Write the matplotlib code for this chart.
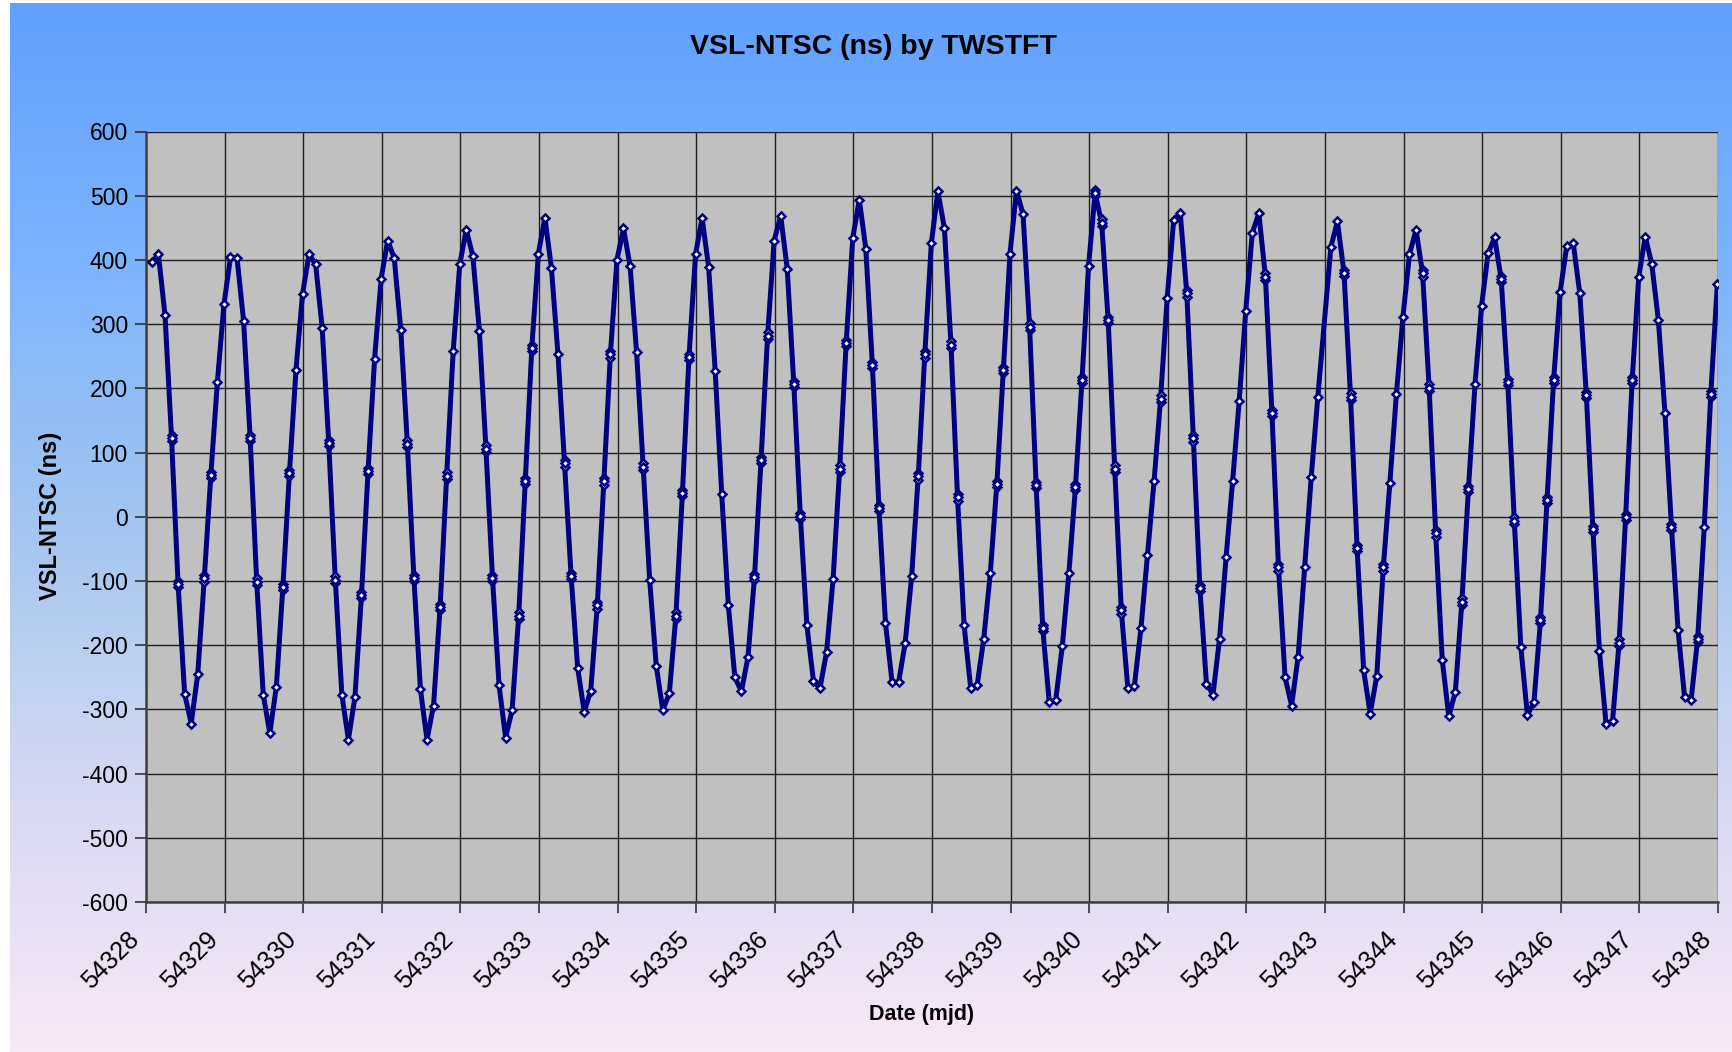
import numpy as np
from matplotlib import pyplot as plt
from matplotlib.colors import LinearSegmentedColormap
from matplotlib.transforms import ScaledTranslation

# VSL-NTSC time difference by TWSTFT, one session every 2 hours (12 per day)
mjd_days = list(range(54328, 54348))
slot_step = 1.0 / 12
slot_offset = 0.075

# values (ns) read per day, None = missing session
ns_by_day = [
	[396, 409, 314, 123, -105, -276, -322, -245, -96, 65, 210, 331],
	[404, 403, 305, 123, -101, -277, -337, -265, -109, 68, 229, 347],
	[409, 393, 294, 115, -98, -277, -347, -281, -122, 71, 246, 371],
	[430, 403, 291, 114, -95, -269, -347, -294, -141, 64, 258, 393],
	[447, 406, 289, 106, -95, -262, -344, -301, -154, 56, 263, 409],
	[466, 387, 253, 83, -92, -235, -304, -271, -138, 55, 253, 400],
	[449, 391, 256, 78, -99, -232, -301, -275, -154, 37, 249, 409],
	[465, 389, 227, 35, -137, -250, -272, -219, -94, 88, 282, 430],
	[469, 386, 207, 1, -169, -256, -267, -211, -97, 75, 271, 434],
	[494, 417, 236, 14, -166, -257, -258, -197, -92, 63, 253, 426],
	[507, 449, 268, 30, -169, -266, -262, -190, -88, 51, 229, 409],
	[508, 471, 296, 49, -173, -289, -285, -201, -88, 46, 213, 391],
	[504, 458, 306, 75, -146, -267, -263, -174, -59, 55, 184, 340],
	[462, 473, 348, 122, -111, -260, -277, -190, -63, 56, 180, 321],
	[442, 473, 374, 162, -79, -250, -294, -218, -78, 62, 186, None],
	[420, 460, 380, 187, -49, -239, -307, -248, -79, 52, 191, 311],
	[409, 447, 379, 201, -26, -223, -311, -273, -132, 43, 206, 328],
	[410, 435, 370, 210, -6, -203, -309, -289, -161, 26, 213, 350],
	[421, 426, 348, 190, -19, -209, -322, -318, -196, 0, 213, 374],
	[436, 393, 306, 162, -16, -176, -281, -285, -190, -16, 191, 363],
]

# sessions where several repeated measurements sit on top of each other
stacked = [
	[3, 4, 8, 9], [3, 4, 8, 9], [3, 4, 8, 9], [3, 4, 8, 9],
	[3, 4, 8, 9, 10], [3, 4, 8, 9, 10], [3, 8, 9, 10], [8, 9, 10],
	[2, 3, 9, 10], [2, 3, 9, 10], [2, 3, 9, 10], [2, 3, 4, 9, 10],
	[0, 1, 2, 3, 4, 10], [2, 3, 4], [2, 3, 4], [2, 3, 4, 8],
	[2, 3, 4, 8, 9], [2, 3, 4, 8, 9, 10], [3, 4, 8, 9, 10], [4, 8, 10],
]

tick_days = list(range(54328, 54349))
tick_ns = list(range(-600, 601, 100))

x, y, xs, ys = [], [], [], []
for d, day in enumerate(mjd_days):
	for k, v in enumerate(ns_by_day[d]):
		if v is None:
			continue
		t = day + slot_offset + k * slot_step
		x.append(t)
		y.append(v)
		if k in stacked[d]:
			xs += [t, t]
			ys += [v + 5, v - 5]

navy = '#000080'
fig = plt.figure(figsize=(17.33, 10.52), dpi=100)
fig.patch.set_facecolor('white')

# gradient chart area
bg = fig.add_axes([10 / 1733, 0, 1 - 10 / 1733, 1 - 3 / 1052], zorder=-10)
cmap = LinearSegmentedColormap.from_list('bg', ['#60A0FF', '#7DB4FC', '#A2C6F0', '#D6D8F2', '#F8E8F6'])
bg.imshow(np.linspace(0, 1, 256).reshape(-1, 1), aspect='auto', cmap=cmap, extent=[0, 1, 0, 1])
bg.axis('off')

ax = fig.add_axes([146 / 1733, 1 - 902 / 1052, (1718 - 146) / 1733, (902 - 131.5) / 1052])
ax.set_facecolor('#C0C0C0')
ax.plot(x, y, color=navy, lw=3.6, zorder=3)
mk = dict(ls='none', marker='D', ms=4.2, mfc='white', mec=navy, mew=1.8, zorder=4)
ax.plot(xs, ys, **mk)
ax.plot(x, y, **mk)

ax.set_xlim(54328, 54348)
ax.set_ylim(-600, 600)
ax.set_xticks(tick_days)
ax.set_xticklabels([])
# rotated date labels, placed by hand so they sit left of the tick like Excel does
lab_tr = ax.get_xaxis_transform() + ScaledTranslation(-0.19, -0.25, fig.dpi_scale_trans)
for d in tick_days:
	ax.text(d, 0, str(d), transform=lab_tr, rotation=45, ha='right', va='top',
		rotation_mode='anchor', fontsize=18, family='Liberation Sans', clip_on=False)
ax.set_yticks(tick_ns)
ax.set_yticklabels([str(v) for v in tick_ns], fontsize=16.5, family='Liberation Sans')
ax.tick_params(axis='both', direction='out', length=8, width=1.2, color='#333333')
ax.tick_params(axis='y', pad=5)
ax.grid(True, color='#202020', lw=1)
ax.set_axisbelow(True)
for s in ['top', 'right']:
	ax.spines[s].set_visible(False)
for s in ['left', 'bottom']:
	ax.spines[s].set_color('#404040')
	ax.spines[s].set_linewidth(1.8)

fig.text(0.504, 0.955, 'VSL-NTSC (ns) by TWSTFT', ha='center', va='center', fontsize=20.5,
	fontweight='bold', family='Liberation Sans')
fig.text(0.532, 0.036, 'Date (mjd)', ha='center', va='center', fontsize=15.5,
	fontweight='bold', family='Liberation Sans')
fig.text(0.029, 0.51, 'VSL-NTSC (ns)', ha='center', va='center', rotation=90, fontsize=17,
	fontweight='bold', family='Liberation Sans')

plt.savefig('out.png', dpi=100)
